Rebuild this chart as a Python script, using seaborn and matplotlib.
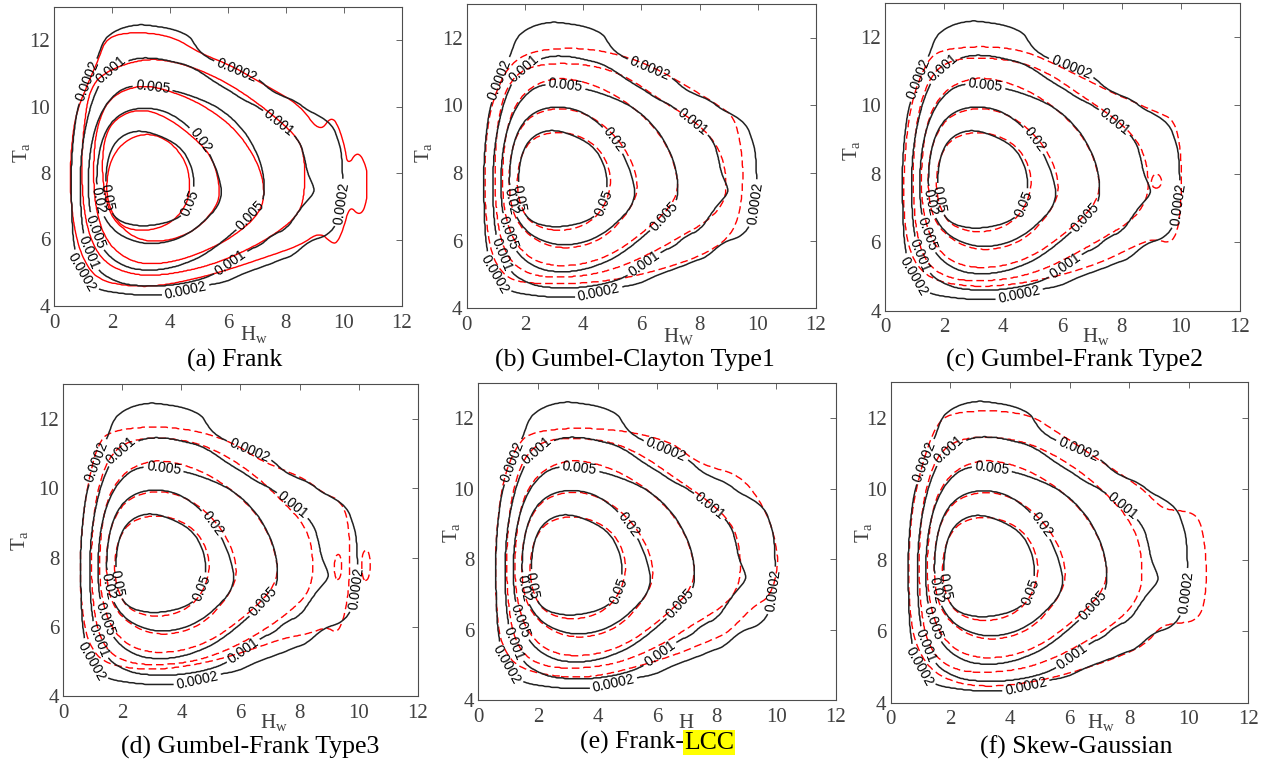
import numpy as np
import matplotlib
matplotlib.use("Agg")
import matplotlib.pyplot as plt
from matplotlib.path import Path
import seaborn as sns


# -----------------------------------------------------------
# Data: contour outlines (H_w, T_a)
# -----------------------------------------------------------
LEVELS = [0.0002, 0.001, 0.005, 0.02, 0.05]

# empirical density (black, same in every panel)
emp_0002_x = [9.96, 9.92, 9.8, 9.62, 9.27, 8.7, 8.36, 7.9, 7.44, 7.04, 6.3, 5.56, 5.1, 4.85, 4.7, 4.13, 3.44, 2.86, 2.18, 1.72, 1.49, 1.1, 0.8, 0.65, 0.58, 0.6, 0.65, 0.8, 1.1, 1.49, 2.29, 3.0, 3.78, 4.5, 5.27, 5.95, 6.52, 7.32, 7.9, 8.24, 8.81, 9.39, 9.73, 9.92]
emp_0002_y = [7.9, 8.6, 9.0, 9.41, 9.66, 9.91, 10.15, 10.3, 10.5, 10.84, 11.1, 11.34, 11.58, 11.85, 12.1, 12.32, 12.42, 12.47, 12.32, 12.03, 11.44, 10.7, 9.96, 9.0, 8.0, 7.0, 6.0, 5.3, 4.75, 4.5, 4.38, 4.33, 4.33, 4.45, 4.63, 4.73, 4.98, 5.22, 5.42, 5.52, 5.96, 6.11, 6.41, 7.0]
emp_001_x = [9.02, 8.75, 8.65, 8.5, 8.1, 7.6, 7.09, 6.52, 6.0, 5.5, 5.04, 4.58, 4.01, 3.44, 2.86, 2.3, 1.8, 1.4, 1.1, 0.93, 0.9, 0.95, 1.12, 1.5, 2.2, 3.0, 4.0, 5.0, 5.6, 6.0, 6.75, 7.09, 7.55, 8.01, 8.47, 8.81]
emp_001_y = [7.48, 7.95, 8.4, 8.9, 9.3, 9.6, 9.96, 10.2, 10.5, 10.75, 11.04, 11.24, 11.36, 11.45, 11.45, 11.3, 11.0, 10.4, 9.5, 8.5, 7.5, 6.5, 5.7, 5.05, 4.7, 4.6, 4.62, 4.78, 5.0, 5.25, 5.72, 5.81, 6.16, 6.31, 6.9, 7.25]
emp_005_x = [7.28, 7.15, 6.7, 6.2, 5.6, 4.81, 4.0, 3.2, 2.5, 2.0, 1.6, 1.3, 1.17, 1.2, 1.4, 1.8, 2.4, 3.0, 3.8, 4.6, 5.3, 6.19, 6.8, 7.15]
emp_005_y = [7.5, 8.3, 9.1, 9.6, 10.0, 10.3, 10.5, 10.63, 10.6, 10.3, 9.8, 9.0, 8.0, 7.0, 6.2, 5.55, 5.2, 5.08, 5.1, 5.3, 5.6, 6.21, 6.75, 7.05]
emp_02_x = [5.8, 5.65, 5.3, 4.7, 3.9, 3.0, 2.3, 1.85, 1.58, 1.46, 1.5, 1.75, 2.2, 3.0, 3.9, 4.7, 5.3, 5.65]
emp_02_y = [7.4, 8.0, 8.7, 9.37, 9.86, 9.98, 9.8, 9.4, 8.8, 8.0, 7.2, 6.6, 6.15, 5.87, 5.9, 6.2, 6.65, 7.0]
emp_05_x = [4.85, 4.75, 4.4, 3.8, 3.0, 2.4, 1.98, 1.8, 1.78, 1.85, 2.2, 2.9, 3.6, 4.2, 4.65]
emp_05_y = [7.6, 8.2, 8.75, 9.07, 9.29, 9.17, 8.78, 8.2, 7.5, 7.0, 6.55, 6.4, 6.45, 6.6, 6.9]

# (a) Frank
frank_0002_x = [10.21, 10.55, 10.79, 10.8, 10.79, 10.48, 10.14, 10.03, 9.86, 9.59, 9.17, 8.48, 7.34, 6.19, 5.03, 4.11, 2.85, 1.81, 1.52, 1.12, 0.71, 0.54, 0.6, 0.89, 1.46, 2.73, 3.88, 5.61, 7.34, 8.49, 9.17, 9.59, 9.76, 9.97]
frank_0002_y = [7.05, 6.68, 7.1, 7.7, 8.18, 8.69, 8.2, 8.78, 9.29, 9.74, 9.2, 10.05, 10.6, 11.2, 11.6, 12.1, 12.25, 12.1, 11.4, 10.6, 9.7, 8.19, 6.79, 5.58, 4.78, 4.58, 4.63, 4.98, 5.48, 5.83, 6.23, 5.89, 5.89, 6.29]
frank_001_x = [8.66, 8.61, 8.26, 7.34, 6.19, 5.03, 3.88, 2.96, 1.9, 1.23, 1.0, 0.94, 1.06, 1.46, 2.15, 3.31, 5.03, 6.42, 7.68, 8.49]
frank_001_y = [7.59, 8.69, 9.19, 9.89, 10.6, 11.1, 11.4, 11.4, 11.1, 10.6, 9.19, 7.99, 6.59, 5.58, 5.08, 4.88, 5.13, 5.58, 6.19, 6.79]
frank_005_x = [7.28, 7.0, 6.19, 5.03, 3.88, 2.96, 1.92, 1.46, 1.35, 1.41, 1.81, 2.73, 3.88, 5.03, 6.19, 7.11]
frank_005_y = [7.49, 8.39, 9.39, 10.1, 10.5, 10.65, 10.3, 9.39, 8.19, 6.99, 5.88, 5.28, 5.28, 5.58, 6.09, 6.79]
frank_02_x = [5.73, 5.5, 4.92, 3.88, 2.96, 2.1, 1.7, 1.65, 1.92, 2.73, 3.88, 4.92, 5.61]
frank_02_y = [7.5, 8.4, 9.0, 9.69, 9.94, 9.65, 9.0, 7.8, 6.8, 6.0, 5.93, 6.29, 6.99]
frank_05_x = [4.69, 4.55, 4.0, 3.3, 2.6, 2.1, 1.82, 1.82, 2.15, 2.9, 3.7, 4.3, 4.63]
frank_05_y = [7.7, 8.35, 8.95, 9.2, 9.05, 8.65, 8.0, 7.1, 6.45, 6.25, 6.35, 6.7, 7.2]

# inner copula contours, (b)-(f)
cop_005_x = [7.3, 7.1, 6.6, 5.8, 4.8, 3.8, 3.0, 2.2, 1.65, 1.35, 1.22, 1.28, 1.6, 2.2, 3.0, 4.0, 5.0, 6.0, 6.9]
cop_005_y = [7.5, 8.4, 9.2, 9.9, 10.45, 10.75, 10.8, 10.55, 10.0, 9.2, 8.0, 6.9, 6.0, 5.45, 5.25, 5.3, 5.6, 6.2, 6.9]
cop_02_x = [5.9, 5.75, 5.3, 4.6, 3.8, 3.0, 2.2, 1.75, 1.5, 1.45, 1.55, 1.9, 2.5, 3.2, 4.1, 4.9, 5.6]
cop_02_y = [7.5, 8.2, 8.9, 9.5, 9.85, 9.92, 9.7, 9.2, 8.5, 7.7, 6.9, 6.35, 5.95, 5.77, 5.85, 6.2, 6.9]
cop_05_x = [4.98, 4.85, 4.4, 3.7, 3.0, 2.3, 1.9, 1.72, 1.8, 2.2, 3.0, 3.9, 4.6]
cop_05_y = [7.6, 8.3, 8.85, 9.15, 9.22, 9.05, 8.6, 7.9, 7.1, 6.5, 6.28, 6.38, 6.8]

# (b) Gumbel-Clayton Type1
gc1_0002_x = [9.51, 9.39, 9.16, 8.71, 7.79, 6.41, 5.27, 4.12, 2.98, 2.06, 1.43, 1.03, 0.74, 0.63, 0.63, 0.74, 1.03, 1.6, 2.98, 4.12, 5.5, 6.99, 8.25, 9.05, 9.39]
gc1_0002_y = [7.99, 8.98, 9.67, 9.96, 10.45, 11.14, 11.49, 11.68, 11.68, 11.54, 11.14, 10.45, 9.57, 8.38, 7.2, 6.02, 5.23, 4.78, 4.72, 4.75, 4.9, 5.23, 5.63, 6.12, 6.81]
gc1_001_x = [8.92, 8.85, 8.5, 7.8, 6.64, 5.5, 4.35, 3.0, 2.0, 1.4, 1.08, 0.97, 1.0, 1.2, 1.6, 2.2, 3.0, 4.12, 5.2, 6.3, 7.3, 8.3, 8.8]
gc1_001_y = [7.5, 8.3, 8.95, 9.55, 10.16, 10.85, 11.18, 11.25, 11.1, 10.6, 9.6, 8.3, 7.0, 5.9, 5.3, 5.0, 4.92, 4.97, 5.2, 5.62, 6.1, 6.6, 7.1]

# (c) Gumbel-Frank Type2
gf2_0002_x = [10.03, 9.97, 9.75, 9.3, 8.73, 8.28, 7.72, 7.04, 6.37, 5.46, 4.56, 3.77, 2.99, 1.86, 1.41, 0.9, 0.68, 0.62, 0.73, 1.07, 1.75, 2.99, 4.11, 5.24, 6.37, 7.49, 8.39, 9.07, 9.63, 9.86, 9.97]
gf2_0002_y = [7.82, 8.89, 9.57, 9.76, 9.96, 10.15, 10.35, 10.64, 10.93, 11.32, 11.61, 11.69, 11.71, 11.61, 11.27, 10.15, 8.69, 7.23, 6.06, 5.28, 4.85, 4.7, 4.75, 4.9, 5.14, 5.48, 5.87, 6.11, 5.97, 6.26, 6.84]
gf2_001_x = [8.9, 8.85, 8.55, 7.8, 6.6, 5.5, 4.4, 3.0, 2.0, 1.45, 1.1, 0.95, 0.98, 1.15, 1.55, 2.2, 3.0, 4.1, 5.2, 6.3, 7.3, 8.3, 8.75]
gf2_001_y = [7.5, 8.3, 8.95, 9.6, 10.3, 10.95, 11.3, 11.4, 11.25, 10.7, 9.7, 8.3, 7.0, 5.9, 5.25, 4.95, 4.87, 4.92, 5.15, 5.6, 6.1, 6.6, 7.1]
gf2_isl_001_x = [9.35, 9.3, 9.15, 9.02, 9.02, 9.15, 9.3]
gf2_isl_001_y = [7.78, 7.95, 8.0, 7.9, 7.65, 7.56, 7.62]

# (d) Gumbel-Frank Type3
gf3_0002_x = [9.71, 9.65, 9.37, 8.8, 8.24, 7.45, 6.66, 5.76, 4.85, 3.95, 2.93, 1.81, 1.24, 0.85, 0.62, 0.56, 0.68, 0.9, 1.47, 2.93, 4.06, 5.19, 6.32, 7.45, 8.35, 8.92, 9.26, 9.48, 9.65]
gf3_0002_y = [7.93, 9.08, 9.66, 9.85, 10.24, 10.53, 10.81, 11.3, 11.58, 11.73, 11.78, 11.68, 11.44, 10.24, 8.79, 7.35, 6.19, 5.42, 4.9, 4.75, 4.85, 5.04, 5.33, 5.67, 5.81, 6.0, 5.81, 6.19, 6.96]
gf3_001_x = [8.45, 8.4, 8.1, 7.5, 6.6, 5.5, 4.4, 3.0, 2.0, 1.45, 1.1, 0.95, 0.98, 1.15, 1.55, 2.2, 3.0, 4.1, 5.2, 6.3, 7.3, 8.0, 8.35]
gf3_001_y = [7.6, 8.4, 9.0, 9.55, 10.3, 10.95, 11.35, 11.47, 11.3, 10.75, 9.7, 8.3, 7.0, 5.9, 5.25, 4.97, 4.9, 4.95, 5.2, 5.65, 6.2, 6.7, 7.1]
gf3_isl_001_x = [9.42, 9.38, 9.3, 9.21, 9.18, 9.22, 9.3, 9.38]
gf3_isl_001_y = [7.75, 8.05, 8.12, 8.0, 7.7, 7.4, 7.33, 7.45]
gf3_isl_0002_x = [10.4, 10.35, 10.25, 10.13, 10.1, 10.14, 10.25, 10.35]
gf3_isl_0002_y = [7.8, 8.15, 8.25, 8.1, 7.75, 7.4, 7.3, 7.45]

# (e) Frank-LCC
flcc_0002_x = [10.07, 9.96, 9.68, 9.12, 8.56, 7.89, 7.21, 6.54, 5.31, 4.19, 3.08, 1.96, 1.4, 0.89, 0.67, 0.56, 0.62, 0.78, 1.4, 3.08, 4.19, 5.31, 6.43, 7.55, 8.33, 8.78, 9.23, 9.79]
flcc_0002_y = [7.79, 8.55, 9.3, 10.06, 10.44, 10.58, 10.82, 11.29, 11.58, 11.69, 11.72, 11.62, 11.39, 10.44, 9.3, 7.88, 6.46, 5.52, 4.85, 4.62, 4.71, 4.95, 5.23, 5.61, 5.89, 6.27, 6.65, 6.94]
flcc_001_x = [8.8, 8.75, 8.5, 7.8, 6.6, 5.5, 4.4, 3.0, 2.0, 1.45, 1.1, 0.95, 0.98, 1.15, 1.55, 2.2, 3.0, 4.1, 5.2, 6.3, 7.3, 8.2, 8.65]
flcc_001_y = [7.6, 8.4, 9.0, 9.6, 10.3, 10.95, 11.35, 11.45, 11.3, 10.75, 9.7, 8.3, 7.0, 5.9, 5.25, 4.97, 4.9, 4.95, 5.2, 5.65, 6.2, 6.65, 7.1]

# (f) Skew-Gaussian
sg_0002_x = [10.6, 10.55, 10.38, 10.04, 9.26, 8.93, 8.48, 7.92, 7.14, 6.35, 5.46, 4.79, 3.89, 3.0, 2.1, 1.66, 1.32, 0.98, 0.7, 0.59, 0.65, 0.82, 1.32, 2.21, 3.33, 4.45, 5.57, 6.69, 7.81, 8.59, 9.04, 9.49, 10.16, 10.49]
sg_0002_y = [7.44, 8.38, 9.13, 9.36, 9.41, 9.59, 9.97, 10.3, 10.72, 11.18, 11.65, 12.03, 12.17, 12.19, 12.12, 11.93, 11.37, 10.44, 9.31, 7.91, 6.51, 5.67, 4.92, 4.54, 4.45, 4.54, 4.73, 5.01, 5.34, 5.67, 6.13, 6.23, 6.27, 6.6]
sg_001_x = [8.45, 8.35, 7.95, 7.3, 6.5, 5.5, 4.4, 3.0, 2.0, 1.45, 1.1, 0.95, 0.98, 1.15, 1.55, 2.2, 3.0, 4.1, 5.2, 6.3, 7.3, 8.0, 8.35]
sg_001_y = [7.6, 8.5, 9.2, 9.8, 10.4, 10.95, 11.35, 11.48, 11.3, 10.75, 9.7, 8.3, 7.0, 5.9, 5.25, 4.92, 4.85, 4.9, 5.15, 5.6, 6.1, 6.6, 7.1]

X_TICKS = [0, 2, 4, 6, 8, 10, 12]
Y_TICKS = [4, 6, 8, 10, 12]


# -----------------------------------------------------------
# Build density grids whose iso-lines follow the outlines
# -----------------------------------------------------------
gx = np.linspace(0, 12, 481)
gy = np.linspace(4, 13, 361)
GX, GY = np.meshgrid(gx, gy)
grid_pts = np.column_stack([GX.ravel(), GY.ravel()])


def smooth_ring(xs, ys, n=2):
    p = np.column_stack([xs, ys]).astype(float)
    for _ in range(n):
        q = np.roll(p, -1, axis=0)
        p = np.column_stack([0.75 * p + 0.25 * q, 0.25 * p + 0.75 * q]).reshape(-1, 2)
    return p


def density(rings_per_level):
    f = np.zeros(GX.shape)
    for rings in rings_per_level:
        inside = np.zeros(GX.shape, dtype=bool)
        for xs, ys in rings:
            inside |= Path(smooth_ring(xs, ys)).contains_points(grid_pts).reshape(GX.shape)
        f += inside
    k = np.exp(-0.5 * (np.arange(-4, 5) / 1.5) ** 2)
    k /= k.sum()
    f = np.apply_along_axis(np.convolve, 0, f, k, mode='same')
    f = np.apply_along_axis(np.convolve, 1, f, k, mode='same')
    return np.interp(f, [0, 0.5, 1.5, 2.5, 3.5, 4.5, 5.0], [0] + LEVELS + [0.08])


emp = density([[(emp_0002_x, emp_0002_y)], [(emp_001_x, emp_001_y)],
               [(emp_005_x, emp_005_y)], [(emp_02_x, emp_02_y)], [(emp_05_x, emp_05_y)]])

inner = [[(cop_005_x, cop_005_y)], [(cop_02_x, cop_02_y)], [(cop_05_x, cop_05_y)]]

# layout in pixels: axes (left, top, right, bottom), caption centre, x-label, y-label centre
PANELS = [
    dict(cap='(a) Frank', dashed=False,
         rings=[[(frank_0002_x, frank_0002_y)], [(frank_001_x, frank_001_y)],
                [(frank_005_x, frank_005_y)], [(frank_02_x, frank_02_y)], [(frank_05_x, frank_05_y)]],
         box=(54.3, 6.75, 401.7, 306), capxy=(235, 360), xl=(240, 340, r'$\mathrm{H_w}$'), yl=(21, 152)),
    dict(cap='(b) Gumbel-Clayton Type1', dashed=True,
         rings=[[(gc1_0002_x, gc1_0002_y)], [(gc1_001_x, gc1_001_y)]] + inner,
         box=(466.7, 3.9, 816, 308.3), capxy=(635, 360), xl=(663, 342, r'$\mathrm{H_W}$'), yl=(423, 152)),
    dict(cap='(c) Gumbel-Frank Type2', dashed=True,
         rings=[[(gf2_0002_x, gf2_0002_y)], [(gf2_001_x, gf2_001_y), (gf2_isl_001_x, gf2_isl_001_y)]] + inner,
         box=(885, 2.5, 1240, 310.7), capxy=(1075, 360), xl=(1082, 342, r'$\mathrm{H_w}$'), yl=(851, 150)),
    dict(cap='(d) Gumbel-Frank Type3', dashed=True,
         rings=[[(gf3_0002_x, gf3_0002_y), (gf3_isl_0002_x, gf3_isl_0002_y)],
                [(gf3_001_x, gf3_001_y), (gf3_isl_001_x, gf3_isl_001_y)]] + inner,
         box=(63.3, 384.4, 417.7, 696), capxy=(250, 747), xl=(260, 728, r'$\mathrm{H_w}$'), yl=(20, 540)),
    dict(cap='(e) Frank-', dashed=True,
         rings=[[(flcc_0002_x, flcc_0002_y)], [(flcc_001_x, flcc_001_y)]] + inner,
         box=(478.3, 383, 836, 700), capxy=(580, 742), xl=(678, 728, r'$\mathrm{H}$'), yl=(452, 532)),
    dict(cap='(f) Skew-Gaussian', dashed=True,
         rings=[[(sg_0002_x, sg_0002_y)], [(sg_001_x, sg_001_y)]] + inner,
         box=(890.7, 382, 1248.3, 702.7), capxy=(1076, 747), xl=(1087, 728, r'$\mathrm{H_w}$'), yl=(863, 532)),
]

# where the labels sit on the black contours
LABEL_POS = [
    [(6.3, 11.1), (9.95, 7.1), (4.55, 4.4), (1.05, 10.8), (0.95, 5.0)],
    [(1.95, 11.1), (7.75, 9.5), (6.1, 5.3), (1.0, 5.55)],
    [(3.4, 10.55), (6.8, 6.7), (1.3, 6.2)],
    [(5.0, 8.95), (1.4, 7.15)],
    [(4.72, 7.1), (1.78, 7.25)],
]

# -----------------------------------------------------------
# Plot
# -----------------------------------------------------------
sns.set_style('white')
plt.rcParams['font.family'] = ['Liberation Sans', 'DejaVu Sans']
plt.rcParams['mathtext.fontset'] = 'custom'
plt.rcParams['mathtext.rm'] = 'Liberation Serif'
plt.rcParams['mathtext.it'] = 'Liberation Serif:italic'

W, H = 1266, 765
fig = plt.figure(figsize=(W / 100, H / 100), dpi=100)
fig.patch.set_facecolor('white')
GRAY = '#404040'

for p in PANELS:
    l, t, r, b = p['box']
    ax = fig.add_axes([l / W, 1 - b / H, (r - l) / W, (b - t) / H])
    ax.set_xlim(0, 12)
    ax.set_ylim(4, 13)

    red = ax.contour(GX, GY, density(p['rings']), levels=LEVELS, colors='#ff0000',
                     linewidths=1.0, zorder=2)
    if p['dashed']:
        red.set_linestyle((0, (5.5, 2.8)))

    for lev, pos in zip(LEVELS, LABEL_POS):
        cs = ax.contour(GX, GY, emp, levels=[lev], colors='#222222', linewidths=1.1, zorder=3)
        ax.clabel(cs, manual=pos, inline=True, inline_spacing=3, fontsize=10,
                  colors='black', fmt=lambda v: f'{v:g}')

    ax.set_xticks(X_TICKS)
    ax.set_yticks(Y_TICKS)
    ax.tick_params(direction='in', top=True, right=True, length=4, width=0.6, color='#4d4d4d',
                   labelsize=15, labelcolor=GRAY, labelfontfamily='Liberation Serif')
    ax.tick_params(axis='x', pad=5.5)
    ax.tick_params(axis='y', pad=3)
    for s in ax.spines.values():
        s.set_color('#4d4d4d')
        s.set_linewidth(0.8)

    xx, xy, xt = p['xl']
    fig.text(xx / W, 1 - xy / H, xt, ha='left', va='baseline', fontsize=15, color=GRAY)
    fig.text(p['yl'][0] / W, 1 - p['yl'][1] / H, r'$\mathrm{T_a}$', rotation=90,
             ha='center', va='center', fontsize=15, color=GRAY)

    cx, cy = p['capxy']
    if p['cap'].startswith('(e)'):
        t1 = fig.text(cx / W, 1 - cy / H, p['cap'], ha='left', va='center', fontsize=18.5,
                      family='Liberation Serif', color='black')
        ax.annotate('LCC', xy=(1, 0), xycoords=t1, ha='left', va='bottom', fontsize=18.5,
                    family='Liberation Serif', color='black', annotation_clip=False,
                    bbox=dict(boxstyle='square,pad=0.05', fc='#ffff00', ec='none'))
    else:
        fig.text(cx / W, 1 - cy / H, p['cap'], ha='center', va='center', fontsize=18.5,
                 family='Liberation Serif', color='black')

plt.savefig('out.png', dpi=100)
